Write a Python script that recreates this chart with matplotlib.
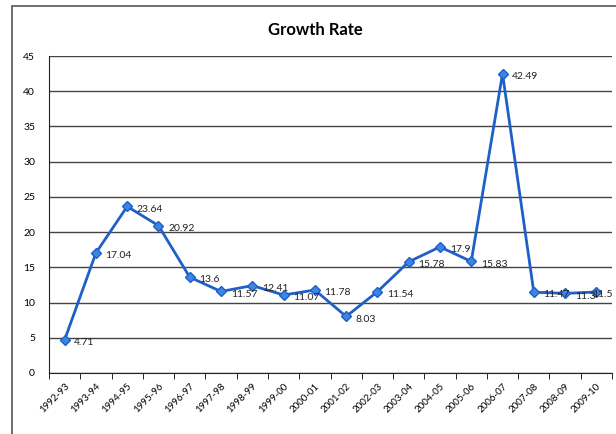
import matplotlib.pyplot as plt
from matplotlib.patches import Rectangle

years = ["1992-93", "1993-94", "1994-95", "1995-96", "1996-97", "1997-98",
         "1998-99", "1999-00", "2000-01", "2001-02", "2002-03", "2003-04",
         "2004-05", "2005-06", "2006-07", "2007-08", "2008-09", "2009-10"]
growth = [4.71, 17.04, 23.64, 20.92, 13.6, 11.57, 12.41, 11.07, 11.78, 8.03,
          11.54, 15.78, 17.9, 15.83, 42.49, 11.47, 11.3, 11.5]
y_ticks = [0, 5, 10, 15, 20, 25, 30, 35, 40, 45]

plt.rcParams["font.family"] = ["Lato", "DejaVu Sans"]

fig = plt.figure(figsize=(6.16, 4.34), dpi=100)
fig.patches.append(Rectangle((12 / 616, -0.01), 1.02, 1 - 6 / 434 + 0.01,
                             transform=fig.transFigure, fill=False,
                             edgecolor="#555555", linewidth=1.2))

ax = fig.add_axes([49 / 616, 61 / 434, 563 / 616, 317 / 434])
x = list(range(len(years)))
ax.plot(x, growth, color="#1f5fc8", linewidth=2, marker="D", markersize=5,
        markerfacecolor="#3d86e0", markeredgecolor="#1f5fc8")

# value labels to the right of each point; the last one is pulled in so it fits
for i, v in enumerate(growth):
    dx = 7 if i < len(growth) - 1 else -3
    ax.annotate(f"{v:g}", (i, v), xytext=(dx, -2), textcoords="offset points",
                ha="left", va="center", fontsize=7.5, color="#222222")

ax.set_xlim(-0.5, len(years) - 0.5)
ax.set_ylim(0, 45)
ax.set_yticks(y_ticks)
ax.set_yticklabels([str(t) for t in y_ticks], fontsize=7.5)
ax.set_xticks(x)
ax.set_xticklabels(years, rotation=45, ha="right", rotation_mode="anchor",
                   fontsize=7)
ax.tick_params(axis="x", length=0, pad=6)
ax.set_xticks([i - 0.5 for i in range(len(years) + 1)], minor=True)
ax.tick_params(axis="x", which="minor", length=4, direction="out")
ax.tick_params(axis="y", length=0, pad=10)

ax.grid(axis="y", color="#444444", linewidth=1)
ax.set_axisbelow(True)
for side in ["top", "right"]:
    ax.spines[side].set_visible(False)
ax.spines["left"].set_color("#222222")
ax.spines["bottom"].set_color("#222222")

fig.text(315 / 616, 1 - 30 / 434, "Growth Rate", ha="center", va="center",
         fontsize=12, fontweight="bold")

fig.savefig("out.png", dpi=100)
